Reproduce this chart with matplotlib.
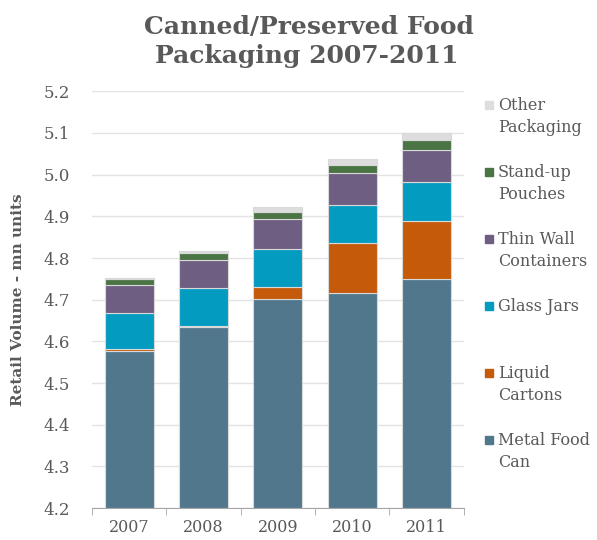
import matplotlib.pyplot as plt
from matplotlib.patches import Rectangle
import numpy as np

years = ['2007', '2008', '2009', '2010', '2011']
series = ['Metal Food\nCan', 'Liquid\nCartons', 'Glass Jars',
          'Thin Wall\nContainers', 'Stand-up\nPouches', 'Other\nPackaging']
metal_food_can = [4.577, 4.634, 4.702, 4.715, 4.750]
liquid_cartons = [0.004, 0.004, 0.028, 0.122, 0.139]
glass_jars = [0.086, 0.090, 0.091, 0.091, 0.093]
thin_wall = [0.068, 0.067, 0.073, 0.076, 0.078]
standup_pouches = [0.014, 0.016, 0.017, 0.018, 0.022]
other_packaging = [0.004, 0.006, 0.012, 0.015, 0.018]
colors = ['#51778D', '#C55A0B', '#049BC1', '#6E5F82', '#4B7444', '#DDDDDD']

values = [metal_food_can, liquid_cartons, glass_jars, thin_wall,
          standup_pouches, other_packaging]

plt.rcParams['font.family'] = ['DejaVu Serif']
txt = '#595959'

fig = plt.figure(figsize=(5.97, 5.4), dpi=100)
ax = fig.add_axes([0.154, 0.059, 0.623, 0.772])

x = np.arange(len(years))
bottom = np.zeros(len(years))
for vals, col in zip(values, colors):
    vals = np.array(vals)
    if bottom.sum() == 0:
        # first series sits on the axis floor
        ax.bar(x, vals - 4.2, 0.66, bottom=4.2, color=col,
               edgecolor='#D9D9D9', linewidth=0.8, zorder=3)
        bottom = vals.copy()
    else:
        ax.bar(x, vals, 0.66, bottom=bottom, color=col,
               edgecolor='#D9D9D9', linewidth=0.8, zorder=3)
        bottom = bottom + vals

ax.set_ylim(4.2, 5.2)
ax.set_xlim(-0.5, 4.5)
ax.set_yticks(np.arange(4.2, 5.21, 0.1))
ax.set_yticklabels(['%.1f' % v for v in np.arange(4.2, 5.21, 0.1)])
ax.set_xticks(x)
ax.set_xticklabels(years)
ax.set_xticks(np.arange(-0.5, 4.6, 1), minor=True)
ax.tick_params(axis='x', which='major', length=0, pad=8, labelsize=11.5, colors=txt)
ax.tick_params(axis='x', which='minor', length=5, color='#A6A6A6', direction='out')
ax.tick_params(axis='y', length=0, pad=16, labelsize=12, colors=txt)
ax.grid(axis='y', color='#E3E3E3', linewidth=1, zorder=0)
for s in ['top', 'right', 'left']:
    ax.spines[s].set_visible(False)
ax.spines['bottom'].set_color('#A6A6A6')

ax.set_ylabel('Retail Volume - mn units', fontsize=11, fontweight='bold',
              color=txt, labelpad=13)

fig.text(0.517, 1 - 34 / 540, 'Canned/Preserved Food', ha='center', va='baseline',
         fontsize=18, fontweight='bold', color=txt)
fig.text(0.513, 1 - 63 / 540, 'Packaging 2007-2011', ha='center', va='baseline',
         fontsize=18, fontweight='bold', color=txt)

# legend, top entry is last series
for i, (lab, col) in enumerate(zip(series[::-1], colors[::-1])):
    ytop = 105 + i * 67
    fig.patches.append(Rectangle((485 / 597, 1 - (ytop + 4) / 540), 8 / 597, 8 / 540,
                                 transform=fig.transFigure, color=col))
    fig.text(498 / 597, 1 - (ytop - 8) / 540, lab, ha='left', va='top',
             fontsize=11.5, color=txt, linespacing=1.4)

fig.savefig('out.png', dpi=100)
